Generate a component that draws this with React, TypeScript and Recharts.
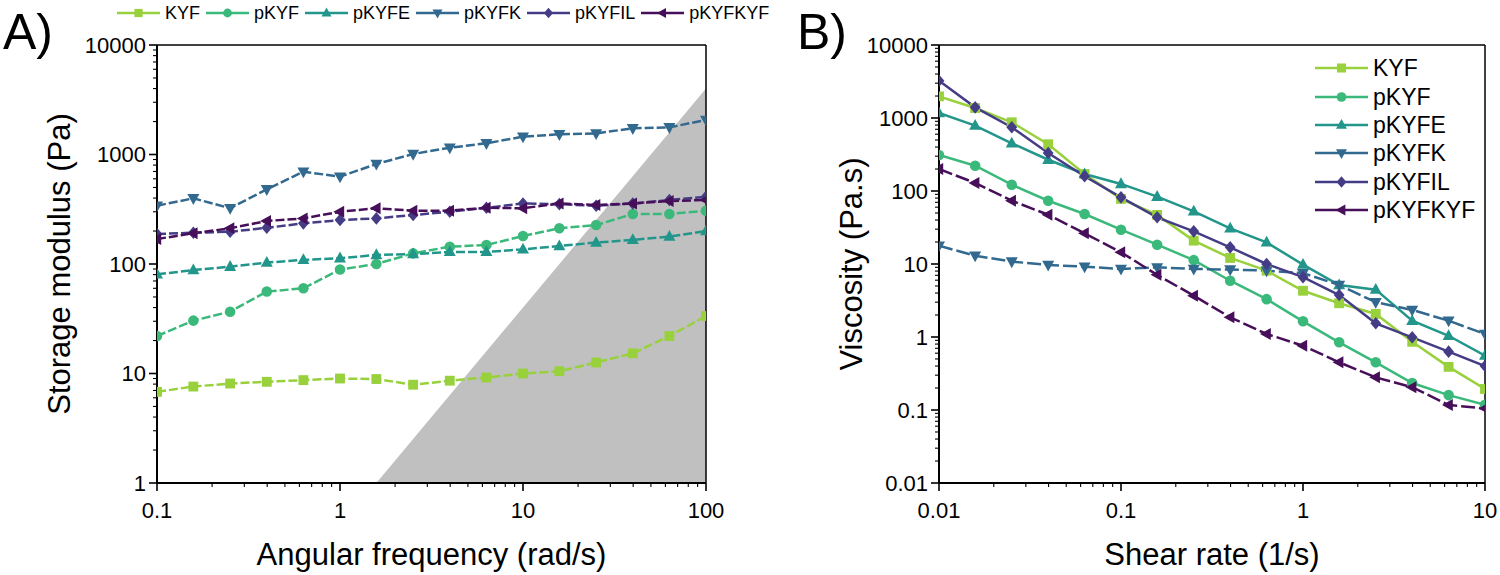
import React from 'react';
import { ComposedChart, Line, Area, XAxis, YAxis, ReferenceLine, Legend } from 'recharts';

const FONT = '"Liberation Sans", Arial, Helvetica, sans-serif';

// ---------- Panel A: storage modulus vs angular frequency ----------
const freqA = [0.1, 0.158, 0.251, 0.398, 0.631, 1, 1.58, 2.51, 3.98, 6.31, 10, 15.8, 25.1, 39.8, 63.1, 100];
const KYF_A = [6.8, 7.6, 8.1, 8.4, 8.7, 9.0, 8.9, 7.9, 8.6, 9.2, 10.0, 10.5, 12.6, 15.3, 22, 33.5];
const pKYF_A = [22, 30.4, 36.7, 56, 60, 89, 100, 125, 144, 149, 180, 212, 227, 286, 286, 307];
const pKYFE_A = [80.5, 88, 94.5, 103, 109, 113, 121, 123, 129, 129, 136, 146, 157, 166, 178, 200];
const pKYFK_A = [341, 398, 323, 481, 697, 627, 819, 1010, 1153, 1265, 1455, 1530, 1560, 1734, 1772, 2065];
const pKYFIL_A = [188, 193, 197, 214, 235, 252, 261, 280, 300, 326, 357, 352, 340, 357, 384, 411];
const pKYFKYF_A = [169, 191, 212, 247, 261, 300, 323, 307, 307, 326, 323, 357, 346, 357, 376, 384];

// gray region (G' ~ w^2 limit)
const gelX = [1.58, 100];
const gelY = [1, 4000];

// ---------- Panel B: viscosity vs shear rate ----------
const rateB = [0.01, 0.0158, 0.0251, 0.0398, 0.0631, 0.1, 0.158, 0.251, 0.398, 0.631, 1, 1.58, 2.51, 3.98, 6.31, 10];
const KYF_B = [1980, 1370, 873, 437, 171, 78, 47, 20.9, 12.1, 8.1, 4.3, 2.9, 2.07, 0.86, 0.39, 0.194];
const pKYF_B = [311, 222, 122, 73.6, 48.4, 29.5, 18.4, 11.3, 5.9, 3.3, 1.64, 0.845, 0.45, 0.234, 0.16, 0.118];
const pKYFE_B = [1170, 785, 450, 268, 171, 125, 83.6, 52.6, 30.8, 19.8, 9.8, 5.15, 4.45, 1.67, 1.04, 0.555];
const pKYFK_B = [17.8, 13, 10.8, 9.7, 9.2, 8.55, 9.0, 8.55, 8.4, 8.1, 7.5, 5.15, 3.0, 2.35, 1.67, 1.1];
const pKYFIL_B = [3240, 1400, 747, 332, 159, 81.8, 43.6, 28, 16.9, 10, 6.6, 3.76, 1.54, 0.99, 0.63, 0.4];
const pKYFKYF_B = [200, 129, 73.6, 47.3, 26.3, 14.5, 7.1, 3.68, 1.86, 1.1, 0.76, 0.45, 0.28, 0.205, 0.117, 0.105];

// ---------- series styling ----------
const seriesNames = ['KYF', 'pKYF', 'pKYFE', 'pKYFK', 'pKYFIL', 'pKYFKYF'];
const seriesColors = ['#98D13C', '#3BB97B', '#22968A', '#32698F', '#453C86', '#470F59'];
const seriesShapes = ['square', 'circle', 'triangle', 'triangleDown', 'diamond', 'triangleLeft'];
const dashA = ['9 3', '9 3', '9 3', '9 3', '9 3', '9 3'];
const dashB = ['', '', '', '14 4', '', '14 4'];

// ---------- ticks ----------
const xMajorsA = [0.1, 1, 10, 100];
const xLabelsA = ['0.1', '1', '10', '100'];
const yMajorsA = [1, 10, 100, 1000, 10000];
const yLabelsA = ['1', '10', '100', '1000', '10000'];
const xMajorsB = [0.01, 0.1, 1, 10];
const xLabelsB = ['0.01', '0.1', '1', '10'];
const yMajorsB = [0.01, 0.1, 1, 10, 100, 1000, 10000];
const yLabelsB = ['0.01', '0.1', '1', '10', '100', '1000', '10000'];
const minorFactors = [2, 3, 4, 5, 6, 7, 8, 9];

function withMinors(majors: number[]): number[] {
  const out: number[] = [];
  majors.forEach((m, i) => {
    out.push(m);
    if (i < majors.length - 1) minorFactors.forEach((f) => out.push(m * f));
  });
  return out;
}

function majorIndex(majors: number[], v: number): number {
  return majors.findIndex((m) => Math.abs(m - v) / m < 1e-6);
}

const seriesA = [KYF_A, pKYF_A, pKYFE_A, pKYFK_A, pKYFIL_A, pKYFKYF_A];
const seriesB = [KYF_B, pKYF_B, pKYFE_B, pKYFK_B, pKYFIL_B, pKYFKYF_B];

const rowsA = freqA.map((x, i) => {
  const r: any = { x };
  seriesNames.forEach((n, k) => (r[n] = seriesA[k][i]));
  return r;
});
const rowsB = rateB.map((x, i) => {
  const r: any = { x };
  seriesNames.forEach((n, k) => (r[n] = seriesB[k][i]));
  return r;
});
const gelRows = gelX.map((x, i) => ({ x, g: gelY[i] }));

// ---------- markers ----------
function Marker({ shape, cx, cy, s, color }: { shape: string; cx: number; cy: number; s: number; color: string }) {
  switch (shape) {
    case 'square':
      return <rect x={cx - s * 0.82} y={cy - s * 0.82} width={s * 1.64} height={s * 1.64} fill={color} />;
    case 'circle':
      return <circle cx={cx} cy={cy} r={s * 0.88} fill={color} />;
    case 'triangle':
      return <polygon points={`${cx},${cy - s * 1.1} ${cx + s},${cy + s * 0.7} ${cx - s},${cy + s * 0.7}`} fill={color} />;
    case 'triangleDown':
      return <polygon points={`${cx},${cy + s * 1.1} ${cx + s},${cy - s * 0.7} ${cx - s},${cy - s * 0.7}`} fill={color} />;
    case 'diamond':
      return <polygon points={`${cx},${cy - s * 1.05} ${cx + s * 0.9},${cy} ${cx},${cy + s * 1.05} ${cx - s * 0.9},${cy}`} fill={color} />;
    case 'triangleLeft':
      return <polygon points={`${cx - s * 1.1},${cy} ${cx + s * 0.7},${cy - s} ${cx + s * 0.7},${cy + s}`} fill={color} />;
    default:
      return null;
  }
}

// ---------- ticks renderers ----------
function makeXTick(majors: number[], labels: string[]) {
  return (p: any) => {
    const idx = majorIndex(majors, p.payload.value);
    const major = idx >= 0;
    return (
      <g key={`xt${p.index}`}>
        <line x1={p.x} x2={p.x} y1={p.y} y2={p.y + (major ? 8 : 4)} stroke="#000" strokeWidth={major ? 1.6 : 1.1} />
        {major && (
          <text x={p.x} y={p.y + 35} textAnchor="middle" fontSize={22} fontFamily={FONT} fill="#000">
            {labels[idx]}
          </text>
        )}
      </g>
    );
  };
}
function makeYTick(majors: number[], labels: string[]) {
  return (p: any) => {
    const idx = majorIndex(majors, p.payload.value);
    const major = idx >= 0;
    return (
      <g key={`yt${p.index}`}>
        <line x1={p.x} x2={p.x - (major ? 8 : 4)} y1={p.y} y2={p.y} stroke="#000" strokeWidth={major ? 1.6 : 1.1} />
        {major && (
          <text x={p.x - 11} y={p.y} dy="0.36em" textAnchor="end" fontSize={22} fontFamily={FONT} fill="#000">
            {labels[idx]}
          </text>
        )}
      </g>
    );
  };
}

// ---------- legends ----------
function LegendA() {
  return (
    <div style={{ display: 'flex', alignItems: 'center', fontFamily: FONT, fontSize: 18, color: '#000', whiteSpace: 'nowrap' }}>
      {seriesNames.map((n, i) => (
        <div key={n} style={{ display: 'flex', alignItems: 'center', marginRight: 6 }}>
          <svg width={43} height={20} style={{ display: 'block' }}>
            <line x1={0} x2={43} y1={10} y2={10} stroke={seriesColors[i]} strokeWidth={2.5} />
            <Marker shape={seriesShapes[i]} cx={21.5} cy={10} s={5} color={seriesColors[i]} />
          </svg>
          <span style={{ marginLeft: 5, lineHeight: '20px' }}>{n}</span>
        </div>
      ))}
    </div>
  );
}
function LegendB() {
  return (
    <div style={{ display: 'flex', flexDirection: 'column', fontFamily: FONT, fontSize: 23, color: '#000', whiteSpace: 'nowrap' }}>
      {seriesNames.map((n, i) => (
        <div key={n} style={{ display: 'flex', alignItems: 'center', height: 28.4 }}>
          <svg width={53} height={20} style={{ display: 'block' }}>
            <line x1={0} x2={53} y1={10} y2={10} stroke={seriesColors[i]} strokeWidth={2.5} />
            <Marker shape={seriesShapes[i]} cx={26.5} cy={10} s={5.5} color={seriesColors[i]} />
          </svg>
          <span style={{ marginLeft: 5, lineHeight: '28px' }}>{n}</span>
        </div>
      ))}
    </div>
  );
}

function renderLines(dashes: string[], s: number) {
  return seriesNames.map((n, i) => (
    <Line
      key={n}
      dataKey={n}
      name={n}
      type="linear"
      stroke={seriesColors[i]}
      strokeWidth={2.5}
      strokeDasharray={dashes[i] || undefined}
      isAnimationActive={false}
      activeDot={false}
      legendType="none"
      dot={(p: any) => <Marker key={`${n}-${p.index}`} shape={seriesShapes[i]} cx={p.cx} cy={p.cy} s={s} color={seriesColors[i]} />}
    />
  ));
}

const axisLineStyle = { stroke: '#000', strokeWidth: 2 };

export default function App() {
  return (
    <div style={{ position: 'absolute', left: 0, top: 0, width: 1500, height: 575, background: '#fff', overflow: 'hidden' }}>
      <div style={{ position: 'absolute', left: 0, top: 0 }}>
        <ComposedChart width={745} height={575} data={rowsA} margin={{ top: 45, right: 39, bottom: 32, left: 0 }}>
          <XAxis
            dataKey="x"
            type="number"
            scale="log"
            domain={[0.1, 100]}
            allowDataOverflow
            ticks={withMinors(xMajorsA)}
            interval={0}
            tickSize={0}
            tickMargin={0}
            tickLine={false}
            axisLine={axisLineStyle}
            height={60}
            tick={makeXTick(xMajorsA, xLabelsA)}
          />
          <YAxis
            type="number"
            scale="log"
            domain={[1, 10000]}
            allowDataOverflow
            ticks={withMinors(yMajorsA)}
            interval={0}
            tickSize={0}
            tickMargin={0}
            tickLine={false}
            axisLine={axisLineStyle}
            width={157}
            tick={makeYTick(yMajorsA, yLabelsA)}
          />
          <Area
            data={gelRows}
            dataKey="g"
            type="linear"
            baseValue={1}
            fill="#c0c0c0"
            fillOpacity={1}
            stroke="none"
            isAnimationActive={false}
            activeDot={false}
            dot={false}
            legendType="none"
          />
          <ReferenceLine y={10000} stroke="#000" strokeWidth={1.5} />
          <ReferenceLine x={100} stroke="#000" strokeWidth={1.5} />
          {renderLines(dashA, 6)}
          <Legend
            layout="horizontal"
            verticalAlign="middle"
            align="center"
            content={() => <LegendA />}
            wrapperStyle={{ top: 3, left: 117, width: 'auto', height: 'auto' }}
          />
        </ComposedChart>
      </div>

      <div style={{ position: 'absolute', left: 760, top: 0 }}>
        <ComposedChart width={740} height={575} data={rowsB} margin={{ top: 45, right: 15, bottom: 32, left: 0 }}>
          <XAxis
            dataKey="x"
            type="number"
            scale="log"
            domain={[0.01, 10]}
            allowDataOverflow
            ticks={withMinors(xMajorsB)}
            interval={0}
            tickSize={0}
            tickMargin={0}
            tickLine={false}
            axisLine={axisLineStyle}
            height={60}
            tick={makeXTick(xMajorsB, xLabelsB)}
          />
          <YAxis
            type="number"
            scale="log"
            domain={[0.01, 10000]}
            allowDataOverflow
            ticks={withMinors(yMajorsB)}
            interval={0}
            tickSize={0}
            tickMargin={0}
            tickLine={false}
            axisLine={axisLineStyle}
            width={179}
            tick={makeYTick(yMajorsB, yLabelsB)}
          />
          <ReferenceLine y={10000} stroke="#000" strokeWidth={1.5} />
          <ReferenceLine x={10} stroke="#000" strokeWidth={1.5} />
          {renderLines(dashB, 6)}
          <Legend
            layout="horizontal"
            verticalAlign="middle"
            align="center"
            content={() => <LegendB />}
            wrapperStyle={{ top: 54, left: 555, width: 'auto', height: 'auto' }}
          />
        </ComposedChart>
      </div>

      <svg
        width={1500}
        height={575}
        style={{ position: 'absolute', left: 0, top: 0, pointerEvents: 'none' }}
        fontFamily={FONT}
        fill="#000"
      >
        <text x={3} y={49} fontSize={50}>A)</text>
        <text x={797} y={49} fontSize={50}>B)</text>
        <text x={431.5} y={565} fontSize={31} textAnchor="middle">Angular frequency (rad/s)</text>
        <text transform="translate(70,264) rotate(-90)" fontSize={31} textAnchor="middle">Storage modulus (Pa)</text>
        <text x={1212} y={565} fontSize={31} textAnchor="middle">Shear rate (1/s)</text>
        <text transform="translate(862,264) rotate(-90)" fontSize={31} textAnchor="middle">Viscosity (Pa.s)</text>
      </svg>
    </div>
  );
}
